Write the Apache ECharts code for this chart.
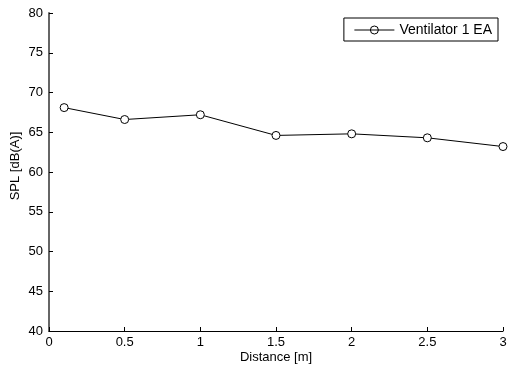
<!DOCTYPE html>
<html><head><meta charset="utf-8">
<script src="https://cdn.jsdelivr.net/npm/echarts@6/dist/echarts.min.js"></script>
<style>html,body{margin:0;padding:0;background:#fff}#c{width:510px;height:366px}</style>
</head><body><div id="c"></div>
<script>
const distances = [0.1, 0.5, 1, 1.5, 2, 2.5, 3];
const splValues = [68.1, 66.6, 67.2, 64.6, 64.8, 64.3, 63.2];
const seriesName = 'Ventilator 1 EA';
const xTicks = [0, 0.5, 1, 1.5, 2, 2.5, 3];
const yTicks = [40, 45, 50, 55, 60, 65, 70, 75, 80];

const chart = echarts.init(document.getElementById('c'));
const font = 'Liberation Sans, Arial, sans-serif';
chart.setOption({
  animation: false,
  backgroundColor: '#fff',
  grid: {left: 49, right: 7, top: 13, bottom: 35, containLabel: false, outerBoundsMode: 'none'},
  legend: {
    data: [{name: seriesName, icon: 'path://M0,5 L40,5 M16,5 A4,4 0 1 1 24,5 A4,4 0 1 1 16,5', itemStyle:{color:'none', borderColor:'#000', borderWidth:1}}],
    right: 12, top: 18, orient: 'vertical',
    itemWidth: 40, itemHeight: 12, itemGap: 0,
    padding: [5, 6, 4, 8],
    borderColor: '#000', borderWidth: 1, backgroundColor: '#fff', borderRadius: 0,
    textStyle: {fontFamily: font, fontSize: 14, color: '#000'}
  },
  xAxis: {
    type: 'value', min: 0, max: 3, interval: 0.5,
    name: 'Distance [m]', nameLocation: 'middle', nameGap: 20, nameMoveOverlap: false,
    nameTextStyle: {fontFamily: font, fontSize: 13, color: '#000'},
    axisLine: {show: true, onZero: false, lineStyle: {color: '#000', width: 1}},
    axisTick: {show: true, inside: true, length: 4, lineStyle: {color: '#000'}},
    axisLabel: {fontFamily: font, fontSize: 13, color: '#000', margin: 5,
      formatter: v => xTicks.includes(v) ? String(v) : ''},
    splitLine: {show: false}
  },
  yAxis: {
    type: 'value', min: 40, max: 80, interval: 5,
    name: 'SPL [dB(A)]', nameLocation: 'middle', nameGap: 27, nameRotate: 90, nameMoveOverlap: false,
    nameTextStyle: {fontFamily: font, fontSize: 13, color: '#000', padding: [0, 0, 0, 12]},
    axisLine: {show: true, lineStyle: {color: '#666', width: 2}},
    axisTick: {show: true, inside: true, length: 4, lineStyle: {color: '#000'}},
    axisLabel: {fontFamily: font, fontSize: 13, color: '#000', margin: 6,
      formatter: v => yTicks.includes(v) ? String(v) : ''},
    splitLine: {show: false}
  },
  series: [{
    name: seriesName, type: 'line',
    data: distances.map((d, i) => [d, splValues[i]]),
    symbol: 'circle', symbolSize: 8,
    itemStyle: {color: '#fff', borderColor: '#000', borderWidth: 1},
    lineStyle: {color: '#000', width: 1},
    showSymbol: true, clip: false
  }]
});
</script></body></html>
